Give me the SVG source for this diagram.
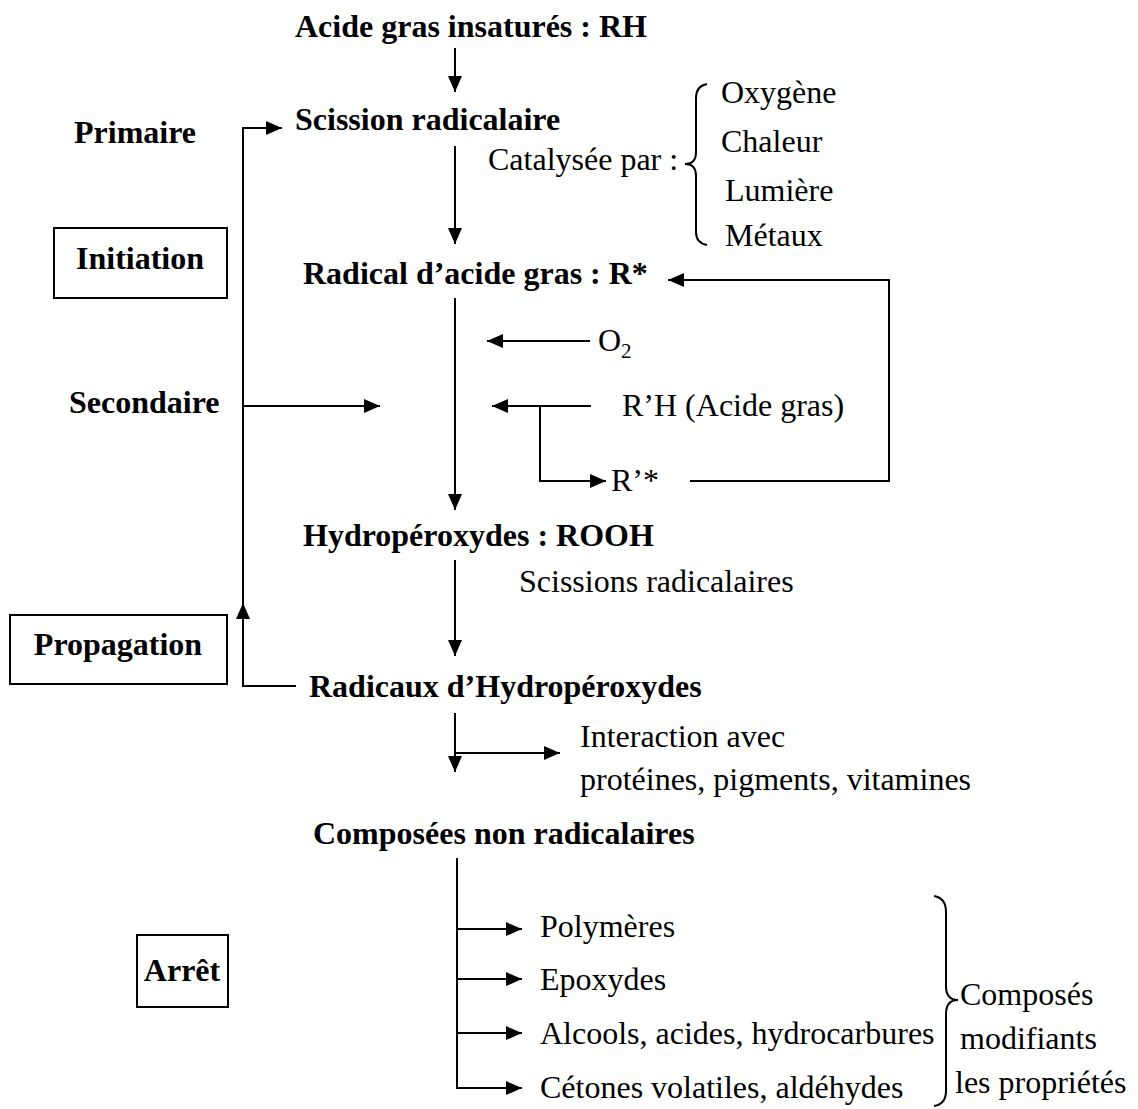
<svg xmlns="http://www.w3.org/2000/svg" width="1138" height="1109" viewBox="0 0 1138 1109">
<style>
.b{font-family:"Liberation Serif","Times New Roman",serif;font-weight:bold;font-size:32px;fill:#000}
.r{font-family:"Liberation Serif","Times New Roman",serif;font-size:32px;fill:#000}
.ln{stroke:#000;stroke-width:2;fill:none}
.bx{stroke:#000;stroke-width:2;fill:#fff}
</style>
<defs>
<marker id="ah" viewBox="0 0 16 14" refX="16" refY="7" markerWidth="16" markerHeight="14" orient="auto" markerUnits="userSpaceOnUse"><path d="M0,0 L16,7 L0,14 z" fill="#000"/></marker>
</defs>
<rect width="1138" height="1109" fill="#fff"/>
<g id="connectors">
<line class="ln" x1="455" y1="48" x2="455" y2="92" marker-end="url(#ah)"/>
<line class="ln" x1="455" y1="146" x2="455" y2="244" marker-end="url(#ah)"/>
<polyline class="ln" points="243,686 243,128 282,128" marker-end="url(#ah)"/>
<line class="ln" x1="455" y1="298" x2="455" y2="510" marker-end="url(#ah)"/>
<line class="ln" x1="590" y1="341" x2="487" y2="341" marker-end="url(#ah)"/>
<line class="ln" x1="243" y1="406" x2="380" y2="406" marker-end="url(#ah)"/>
<line class="ln" x1="591" y1="406" x2="492" y2="406" marker-end="url(#ah)"/>
<polyline class="ln" points="540,406 540,481 606,481" marker-end="url(#ah)"/>
<polyline class="ln" points="690,481 889,481 889,280 668,280" marker-end="url(#ah)"/>
<line class="ln" x1="455" y1="560" x2="455" y2="656" marker-end="url(#ah)"/>
<polyline class="ln" points="296,686 243,686 243,603" marker-end="url(#ah)"/>
<line class="ln" x1="455" y1="713" x2="455" y2="772" marker-end="url(#ah)"/>
<line class="ln" x1="455" y1="753" x2="560" y2="753" marker-end="url(#ah)"/>
<line class="ln" x1="457" y1="858" x2="457" y2="1088"/>
<line class="ln" x1="456" y1="929" x2="522" y2="929" marker-end="url(#ah)"/>
<line class="ln" x1="456" y1="979" x2="522" y2="979" marker-end="url(#ah)"/>
<line class="ln" x1="456" y1="1033" x2="522" y2="1033" marker-end="url(#ah)"/>
<line class="ln" x1="456" y1="1088" x2="522" y2="1088" marker-end="url(#ah)"/>
<path class="ln" d="M707,84 Q696,86 696,98 L696,152 Q696,164 685,164 Q696,164 696,176 L696,232 Q696,243 707,245"/>
<path class="ln" d="M934,896 Q946,898 946,912 L946,986 Q946,1000 958,1000 Q946,1000 946,1014 L946,1091 Q946,1104 934,1106"/>
</g>
<g id="n-acide"><text class="b" x="295" y="37">Acide gras insaturés : RH</text></g>
<g id="n-scission"><text class="b" x="295" y="130">Scission radicalaire</text></g>
<g id="n-primaire"><text class="b" x="74" y="143">Primaire</text></g>
<g id="n-catalysee"><text class="r" x="488" y="170">Catalysée par :</text></g>
<g id="n-catalyseurs">
<text class="r" x="721" y="103">Oxygène</text>
<text class="r" x="721" y="152">Chaleur</text>
<text class="r" x="725" y="201">Lumière</text>
<text class="r" x="725" y="246">Métaux</text>
</g>
<g id="n-initiation"><rect class="bx" x="54" y="228" width="173" height="70"/><text class="b" x="140" y="269" text-anchor="middle">Initiation</text></g>
<g id="n-radical"><text class="b" x="303" y="284">Radical d’acide gras : R*</text></g>
<g id="n-o2"><text class="r" x="598" y="351">O<tspan font-size="21" dy="7">2</tspan></text></g>
<g id="n-secondaire"><text class="b" x="69" y="413">Secondaire</text></g>
<g id="n-rh"><text class="r" x="622" y="416">R’H (Acide gras)</text></g>
<g id="n-rstar"><text class="r" x="611" y="491">R’*</text></g>
<g id="n-hydro"><text class="b" x="303" y="546">Hydropéroxydes : ROOH</text></g>
<g id="n-scissions"><text class="r" x="519" y="592">Scissions radicalaires</text></g>
<g id="n-propagation"><rect class="bx" x="10" y="615" width="217" height="69"/><text class="b" x="118" y="655" text-anchor="middle">Propagation</text></g>
<g id="n-radicaux"><text class="b" x="309" y="697">Radicaux d’Hydropéroxydes</text></g>
<g id="n-interaction"><text class="r" x="580" y="747">Interaction avec</text><text class="r" x="580" y="790">protéines, pigments, vitamines</text></g>
<g id="n-composees"><text class="b" x="313" y="844">Composées non radicalaires</text></g>
<g id="n-polymeres"><text class="r" x="540" y="937">Polymères</text></g>
<g id="n-epoxydes"><text class="r" x="540" y="990">Epoxydes</text></g>
<g id="n-alcools"><text class="r" x="540" y="1044">Alcools, acides, hydrocarbures</text></g>
<g id="n-cetones"><text class="r" x="540" y="1098">Cétones volatiles, aldéhydes</text></g>
<g id="n-composes"><text class="r" x="960" y="1005">Composés</text><text class="r" x="960" y="1049">modifiants</text><text class="r" x="955" y="1093">les propriétés</text></g>
<g id="n-arret"><rect class="bx" x="137" y="935" width="91" height="72"/><text class="b" x="182" y="981" text-anchor="middle">Arrêt</text></g>
</svg>
